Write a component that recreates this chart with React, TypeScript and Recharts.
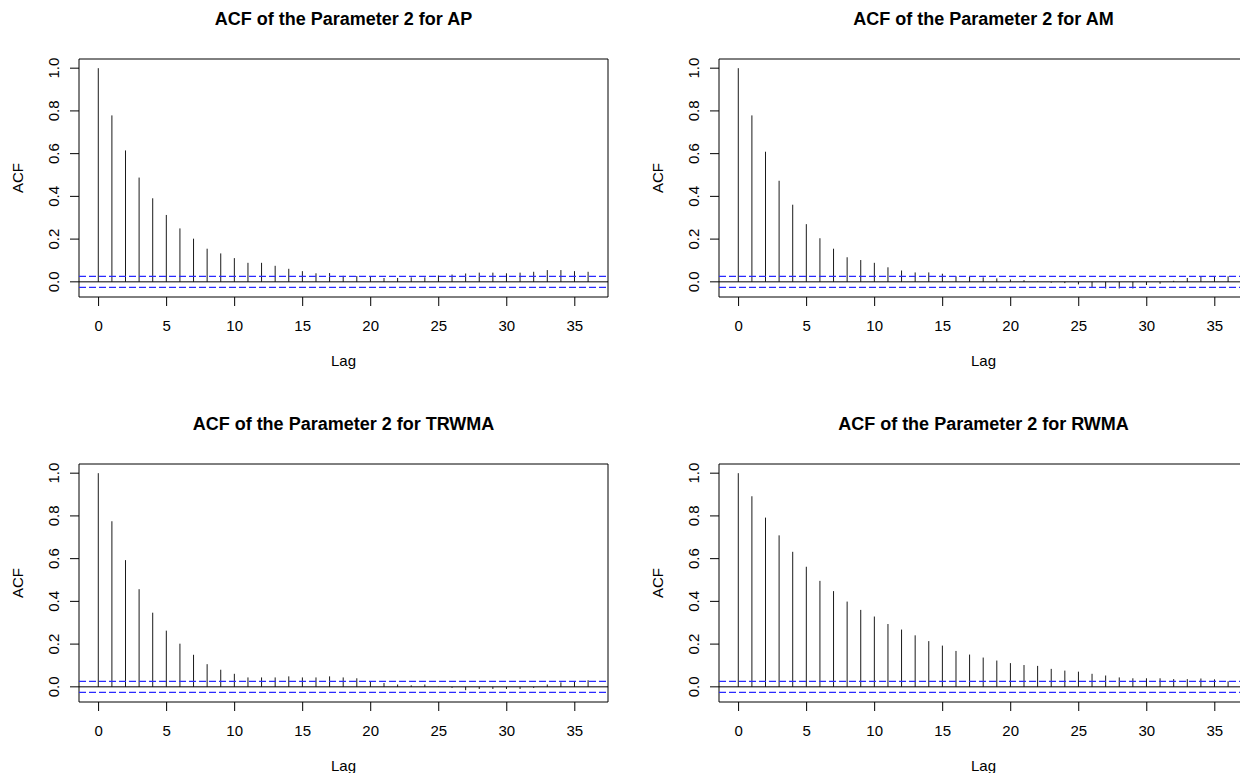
import React from "react";
import {
  ComposedChart,
  Bar,
  XAxis,
  YAxis,
  ReferenceLine,
  ReferenceArea,
} from "recharts";

const lags = [
  0, 1, 2, 3, 4, 5, 6, 7, 8, 9, 10, 11, 12, 13, 14, 15, 16, 17, 18, 19, 20, 21,
  22, 23, 24, 25, 26, 27, 28, 29, 30, 31, 32, 33, 34, 35, 36,
];

const acfAP = [
  1.0, 0.779, 0.615, 0.488, 0.391, 0.313, 0.25, 0.202, 0.155, 0.133, 0.111,
  0.089, 0.089, 0.075, 0.061, 0.05, 0.04, 0.041, 0.028, 0.027, 0.027, 0.018,
  0.018, 0.021, 0.021, 0.03, 0.034, 0.039, 0.043, 0.043, 0.04, 0.043, 0.047,
  0.055, 0.055, 0.05, 0.047,
];
const acfAM = [
  1.0, 0.779, 0.609, 0.473, 0.361, 0.27, 0.204, 0.155, 0.115, 0.102, 0.089,
  0.068, 0.053, 0.044, 0.044, 0.038, 0.026, 0.026, 0.021, 0.016, 0.011, 0.008,
  0.001, -0.004, -0.006, -0.012, -0.024, -0.031, -0.031, -0.031, -0.015,
  -0.009, 0.005, 0.018, 0.026, 0.026, 0.026,
];
const acfTRWMA = [
  1.0, 0.775, 0.593, 0.457, 0.347, 0.263, 0.202, 0.15, 0.106, 0.08, 0.061,
  0.044, 0.044, 0.044, 0.049, 0.044, 0.044, 0.049, 0.044, 0.04, 0.026, 0.018,
  0.011, 0.007, 0.011, 0.001, -0.005, -0.016, -0.01, -0.01, -0.01, -0.01,
  -0.005, 0.011, 0.021, 0.026, 0.031,
];
const acfRWMA = [
  1.0, 0.892, 0.792, 0.709, 0.632, 0.562, 0.496, 0.448, 0.399, 0.36, 0.329,
  0.294, 0.268, 0.241, 0.214, 0.193, 0.168, 0.151, 0.137, 0.123, 0.111, 0.102,
  0.098, 0.084, 0.076, 0.071, 0.061, 0.053, 0.044, 0.04, 0.04, 0.04, 0.036,
  0.036, 0.039, 0.035, 0.026,
];

const panelNames = ["AP", "AM", "TRWMA", "RWMA"];
const panelSeries = [acfAP, acfAM, acfTRWMA, acfRWMA];

const xTicks = [0, 5, 10, 15, 20, 25, 30, 35];
const yTicks = [0, 0.2, 0.4, 0.6, 0.8, 1.0];
const clim = 0.026;

const X_DOMAIN: [number, number] = [-1.44, 37.44];
const Y_DOMAIN: [number, number] = [-0.071, 1.043];

const FONT = '"Liberation Sans", Arial, Helvetica, sans-serif';
const PANEL_W = 640;
const PANEL_H = 405;

const YTick = (p: any) => (
  <text
    x={p.x}
    y={p.y}
    transform={`rotate(-90 ${p.x} ${p.y})`}
    textAnchor="middle"
    fontSize={15}
    fontFamily={FONT}
    fill="#000"
  >
    {Number(p.payload.value).toFixed(1)}
  </text>
);

const Spike = (p: any) => {
  const cx = p.x + p.width / 2;
  return (
    <line
      x1={cx}
      x2={cx}
      y1={p.y}
      y2={p.y + p.height}
      stroke="#1a1a1a"
      strokeWidth={1}
    />
  );
};

function AcfPanel({ name, values }: { name: string; values: number[] }) {
  const data = lags.map((lag, i) => ({ lag, acf: values[i] }));
  return (
    <div style={{ position: "relative", width: PANEL_W, height: PANEL_H }}>
      <ComposedChart
        width={PANEL_W}
        height={PANEL_H}
        data={data}
        margin={{ top: 59, right: 32, bottom: 48, left: 0 }}
      >
        <XAxis
          dataKey="lag"
          type="number"
          domain={X_DOMAIN}
          ticks={xTicks}
          interval={0}
          allowDataOverflow
          axisLine={false}
          tickLine={{ stroke: "#000" }}
          tickSize={9}
          tickMargin={14}
          height={60}
          tick={{ fill: "#000", fontSize: 15, fontFamily: FONT }}
        />
        <YAxis
          type="number"
          domain={Y_DOMAIN}
          ticks={yTicks}
          interval={0}
          allowDataOverflow
          axisLine={false}
          tickLine={{ stroke: "#000" }}
          tickSize={9}
          tickMargin={11}
          width={79}
          tick={<YTick />}
        />
        <ReferenceArea
          x1={X_DOMAIN[0]}
          x2={X_DOMAIN[1]}
          y1={Y_DOMAIN[0]}
          y2={Y_DOMAIN[1]}
          fill="none"
          fillOpacity={0}
          stroke="#000"
          strokeWidth={1}
          ifOverflow="visible"
        />
        <ReferenceLine y={0} stroke="#000" strokeWidth={1} />
        <Bar
          dataKey="acf"
          barSize={1}
          shape={<Spike />}
          isAnimationActive={false}
        />
        <ReferenceLine
          y={clim}
          stroke="#2a2aff"
          strokeDasharray="7 3"
          strokeWidth={1.3}
        />
        <ReferenceLine
          y={-clim}
          stroke="#2a2aff"
          strokeDasharray="7 3"
          strokeWidth={1.3}
        />
      </ComposedChart>
      <svg
        width={PANEL_W}
        height={PANEL_H}
        style={{ position: "absolute", left: 0, top: 0, pointerEvents: "none" }}
      >
        <text
          x={343.5}
          y={25}
          textAnchor="middle"
          fontSize={18}
          fontWeight="bold"
          fontFamily={FONT}
          fill="#000"
        >
          {`ACF of the Parameter 2 for ${name}`}
        </text>
        <text
          x={343.5}
          y={366}
          textAnchor="middle"
          fontSize={15}
          fontFamily={FONT}
          fill="#000"
        >
          Lag
        </text>
        <text
          x={23}
          y={178}
          transform="rotate(-90 23 178)"
          textAnchor="middle"
          fontSize={15}
          fontFamily={FONT}
          fill="#000"
        >
          ACF
        </text>
      </svg>
    </div>
  );
}

export default function App() {
  return (
    <div
      style={{
        position: "absolute",
        left: 0,
        top: 0,
        width: 1240,
        height: 773,
        overflow: "hidden",
        background: "#fff",
      }}
    >
      {panelNames.map((name, i) => (
        <div
          key={name}
          style={{
            position: "absolute",
            left: (i % 2) * PANEL_W,
            top: Math.floor(i / 2) * PANEL_H,
          }}
        >
          <AcfPanel name={name} values={panelSeries[i]} />
        </div>
      ))}
    </div>
  );
}
